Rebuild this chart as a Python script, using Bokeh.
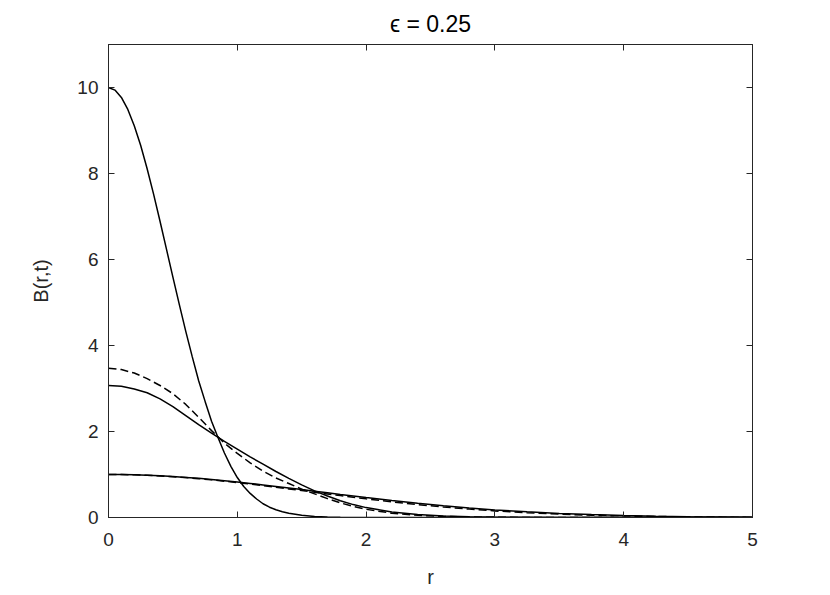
from bokeh.plotting import figure
from bokeh.models import Range1d, LinearAxis, FixedTicker
from bokeh.embed import file_html
from bokeh.resources import INLINE

# radial positions (shared by the wide curves)
r = [0.0, 0.1, 0.2, 0.3, 0.4, 0.5, 0.6, 0.7, 0.8, 0.9, 1.0,
     1.1, 1.2, 1.3, 1.4, 1.5, 1.6, 1.7, 1.8, 1.9, 2.0,
     2.2, 2.4, 2.6, 2.8, 3.0, 3.25, 3.5, 3.75, 4.0, 4.25, 4.5, 4.75, 5.0]

# radial positions for the narrow, tall curve
r_narrow = [0.0, 0.05, 0.1, 0.15, 0.2, 0.25, 0.3, 0.35, 0.4, 0.45, 0.5,
            0.55, 0.6, 0.65, 0.7, 0.75, 0.8, 0.85, 0.9, 0.95, 1.0,
            1.05, 1.1, 1.15, 1.2, 1.25, 1.3, 1.35, 1.4, 1.5, 1.6, 1.7, 1.8, 2.0, 5.0]

# solid curves
b_solid_1 = [10.0, 9.94, 9.77, 9.49, 9.11, 8.65, 8.11, 7.52, 6.89, 6.24, 5.59,
             4.95, 4.33, 3.74, 3.18, 2.70, 2.24, 1.86, 1.50, 1.19, 0.93,
             0.72, 0.56, 0.43, 0.32, 0.24, 0.18, 0.135, 0.10, 0.05, 0.025, 0.012, 0.005, 0.0, 0.0]
b_solid_2 = [3.07, 3.05, 2.99, 2.90, 2.76, 2.58, 2.37, 2.16, 1.96, 1.77, 1.59,
             1.41, 1.24, 1.07, 0.91, 0.76, 0.62, 0.50, 0.39, 0.30, 0.23,
             0.13, 0.07, 0.036, 0.018, 0.009, 0.004, 0.002, 0.0, 0.0, 0.0, 0.0, 0.0, 0.0]
b_solid_3 = [1.0, 0.998, 0.992, 0.983, 0.970, 0.953, 0.933, 0.910, 0.884, 0.856, 0.825,
             0.792, 0.758, 0.722, 0.686, 0.649, 0.611, 0.574, 0.536, 0.499, 0.463,
             0.394, 0.330, 0.272, 0.221, 0.177, 0.131, 0.095, 0.067, 0.046, 0.031, 0.020, 0.013, 0.008]

# dashed curves
b_dashed_2 = [3.47, 3.44, 3.36, 3.23, 3.07, 2.88, 2.63, 2.33, 2.02, 1.73, 1.49,
              1.27, 1.08, 0.92, 0.79, 0.66, 0.55, 0.44, 0.34, 0.26, 0.19,
              0.10, 0.05, 0.025, 0.012, 0.005, 0.002, 0.001, 0.0, 0.0, 0.0, 0.0, 0.0, 0.0]
b_dashed_3 = [1.0, 0.998, 0.992, 0.981, 0.967, 0.949, 0.928, 0.903, 0.875, 0.845, 0.812,
              0.777, 0.741, 0.703, 0.665, 0.626, 0.587, 0.548, 0.509, 0.471, 0.435,
              0.365, 0.301, 0.244, 0.195, 0.153, 0.111, 0.078, 0.053, 0.036, 0.023, 0.015, 0.009, 0.005]

x_ticks = [0, 1, 2, 3, 4, 5]
y_ticks = [0, 2, 4, 6, 8, 10]

AX = "#262626"
FONT = "Liberation Sans"

p = figure(width=820, height=590, output_backend="svg", toolbar_location=None,
           x_range=Range1d(0, 5), y_range=Range1d(0, 11),
           title="\u03f5 = 0.25", x_axis_label="r", y_axis_label="B(r,t)",
           min_border_left=108, min_border_right=68, min_border_top=44, min_border_bottom=72)

p.title.align = "center"
p.title.text_font = FONT
p.title.text_font_size = "23px"
p.title.text_font_style = "normal"
p.title.text_color = "black"
p.title.standoff = 16

p.grid.visible = False
p.outline_line_color = AX
p.outline_line_width = 1
p.background_fill_color = "white"
p.border_fill_color = "white"

bottom = p.below[0]
left = p.left[0]
bottom.ticker = FixedTicker(ticks=x_ticks)
left.ticker = FixedTicker(ticks=y_ticks)

top = LinearAxis(ticker=FixedTicker(ticks=x_ticks))
right = LinearAxis(ticker=FixedTicker(ticks=y_ticks))
p.add_layout(top, "above")
p.add_layout(right, "right")

for ax in (bottom, left, top, right):
    ax.axis_line_color = AX
    ax.major_tick_line_color = AX
    ax.major_tick_in = 6
    ax.major_tick_out = 0
    ax.minor_tick_line_color = None
    ax.major_label_text_font = FONT
    ax.major_label_text_font_size = "19px"
    ax.major_label_text_color = AX
    ax.axis_label_text_font = FONT
    ax.axis_label_text_font_size = "20px"
    ax.axis_label_text_font_style = "normal"
    ax.axis_label_text_color = AX

for ax in (top, right):
    ax.major_label_text_font_size = "0px"
    ax.major_label_text_color = None
    ax.major_label_standoff = 0

bottom.major_label_standoff = 15
left.major_label_standoff = 10
bottom.axis_label_standoff = 17
left.axis_label_standoff = 22

p.line(r_narrow, b_solid_1, line_color="black", line_width=1.5)
p.line(r, b_solid_2, line_color="black", line_width=1.5)
p.line(r, b_solid_3, line_color="black", line_width=1.5)
p.line(r, b_dashed_2, line_color="black", line_width=1.5, line_dash="8 4")
p.line(r, b_dashed_3, line_color="black", line_width=1.5, line_dash="8 4")

open("out.html", "w").write(file_html(p, INLINE))
